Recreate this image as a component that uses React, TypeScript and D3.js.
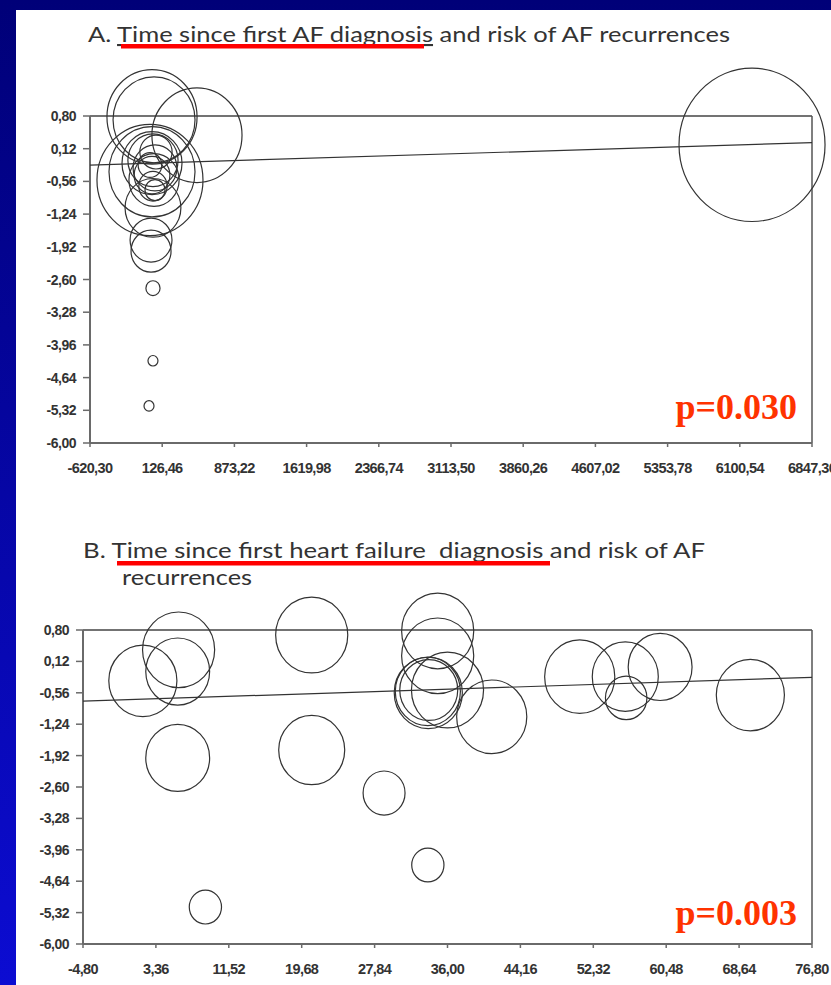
import React from "react";
import * as d3 from "d3";

// ---- Axis ticks (shared y axis: log risk of AF recurrence) ----
const yTicks = [0.8, 0.12, -0.56, -1.24, -1.92, -2.6, -3.28, -3.96, -4.64, -5.32, -6.0];
const xTicksA = [-620.3, 126.46, 873.22, 1619.98, 2366.74, 3113.5, 3860.26, 4607.02, 5353.78, 6100.54, 6847.3];
const xTicksB = [-4.8, 3.36, 11.52, 19.68, 27.84, 36.0, 44.16, 52.32, 60.48, 68.64, 76.8];

// ---- Panel A: time since first AF diagnosis ----
const timeA = [21, 42, 486, 0, 21, 31, 11, 11, 31, 52, 21, 42, 31, 52, 0, 62, 21, 31, 31, -10, 6227];
const effectA = [0.78, 0.72, 0.4, -0.53, -0.36, -1.11, -1.78, -2.01, -0.12, -0.28, -0.43, -0.53, -0.66, -0.74, -0.22, 0.05, -0.18, -2.78, -4.29, -5.23, 0.2];
const weightA = [20.3, 16.8, 20.3, 28.1, 18.5, 7.8, 4.4, 4.0, 6.3, 4.8, 3.2, 6.3, 2.0, 1.0, 1.4, 2.6, 9.0, 0.5, 0.25, 0.25, 53.3];
const fitA = { intercept: -0.181, slope: 0.0000623 };

// ---- Panel B: time since first heart failure diagnosis ----
const timeB = [1.9, 5.9, 5.8, 5.8, 8.9, 20.8, 20.8, 28.9, 33.8, 34.9, 34.9, 33.85, 33.8, 33.9, 36.0, 40.95, 50.8, 55.9, 56.0, 59.8, 69.9];
const effectB = [-0.3, 0.37, -0.1, -1.97, -5.2, 0.69, -1.8, -2.73, -4.29, 0.78, 0.24, -0.56, -0.53, -0.5, -0.5, -1.08, -0.21, -0.21, -0.67, 0.0, -0.61];
const weightB = [11.6, 13.0, 10.2, 10.2, 2.6, 13.0, 10.9, 4.4, 2.6, 13.0, 13.0, 11.6, 10.6, 8.4, 13.0, 12.3, 12.3, 10.9, 4.3, 10.2, 11.6];
const fitB = { intercept: -0.71, slope: 0.006324 };

const commaFmt = d3
  .formatLocale({ decimal: ",", thousands: "", grouping: [3], currency: ["", ""], minus: "-" })
  .format(".2f");

const rScale = d3.scaleSqrt().domain([0, 100]).range([0, 100]);
const ASPECT = 1.05;

type PanelProps = {
  left: number;
  right: number;
  top: number;
  bottom: number;
  xTicks: number[];
  xs: number[];
  ys: number[];
  ws: number[];
  fit: { intercept: number; slope: number };
  pLabel: string;
  pY: number;
};

function Panel(p: PanelProps) {
  const x = d3
    .scaleLinear()
    .domain([p.xTicks[0], p.xTicks[p.xTicks.length - 1]])
    .range([p.left, p.right]);
  const y = d3.scaleLinear().domain([-6, 0.8]).range([p.bottom, p.top]);
  const [x0, x1] = x.domain();
  const fitLine = d3
    .line<number>()
    .x((d) => x(d))
    .y((d) => y(p.fit.intercept + p.fit.slope * d));
  const axisColor = "#6a6a6a";
  return (
    <g>
      {/* frame */}
      <line x1={p.left} x2={p.right} y1={p.top} y2={p.top} stroke="#444" strokeWidth={1.3} />
      <line x1={p.right} x2={p.right} y1={p.top} y2={p.bottom} stroke="#555" strokeWidth={1.5} />
      <line x1={p.left} x2={p.left} y1={p.top} y2={p.bottom} stroke={axisColor} strokeWidth={2} />
      <line x1={p.left} x2={p.right} y1={p.bottom} y2={p.bottom} stroke={axisColor} strokeWidth={2} />
      {/* y axis */}
      {yTicks.map((t) => (
        <g key={"y" + t}>
          <line x1={p.left - 7} x2={p.left} y1={y(t)} y2={y(t)} stroke={axisColor} strokeWidth={1.5} />
          <text
            x={p.left - 14}
            y={y(t)}
            dy="0.36em"
            textAnchor="end"
            fontFamily="Liberation Sans, Arial, sans-serif"
            fontWeight="bold"
            fontSize={14}
            letterSpacing={-0.5}
            fill="#333"
          >
            {commaFmt(t)}
          </text>
        </g>
      ))}
      {/* x axis */}
      {p.xTicks.map((t) => (
        <g key={"x" + t}>
          <line x1={x(t)} x2={x(t)} y1={p.bottom} y2={p.bottom + 4} stroke={axisColor} strokeWidth={1.5} />
          <text
            x={x(t)}
            y={p.bottom + 30}
            textAnchor="middle"
            fontFamily="Liberation Sans, Arial, sans-serif"
            fontWeight="bold"
            fontSize={14.5}
            letterSpacing={-0.6}
            fill="#333"
          >
            {commaFmt(t)}
          </text>
        </g>
      ))}
      {/* meta-regression line */}
      <path d={fitLine([x0, x1]) || ""} fill="none" stroke="#333" strokeWidth={1.2} />
      {/* studies */}
      {p.xs.map((v, i) => (
        <ellipse
          key={"c" + i}
          cx={x(v)}
          cy={y(p.ys[i])}
          rx={rScale(p.ws[i])}
          ry={rScale(p.ws[i]) * ASPECT}
          fill="none"
          stroke="#333"
          strokeWidth={1.2}
        />
      ))}
      <text
        x={p.right - 15}
        y={p.pY}
        textAnchor="end"
        fontFamily="Liberation Serif, Times New Roman, serif"
        fontWeight="bold"
        fontSize={36}
        fill="#ff3300"
      >
        {p.pLabel}
      </text>
    </g>
  );
}

export default function App() {
  const W = 831;
  const H = 985;
  const titleFont = "Lato, Open Sans, sans-serif";
  return (
    <svg width={W} height={H} style={{ position: "absolute", left: 0, top: 0, display: "block" }}>
      <defs>
        <linearGradient id="slideBg" x1="0" y1="0" x2="0" y2="1">
          <stop offset="0" stopColor="#000078" />
          <stop offset="1" stopColor="#0c0cd2" />
        </linearGradient>
      </defs>
      <rect x={0} y={0} width={W} height={H} fill="url(#slideBg)" />
      <rect x={16} y={10} width={W - 16} height={H - 10} fill="#ffffff" />

      {/* Panel A title */}
      <text x={88} y={42} fontFamily={titleFont} fontSize={21} fill="#333" textLength={642} lengthAdjust="spacingAndGlyphs">
        A. <tspan textDecoration="underline">Time since first AF diagnosis</tspan> and risk of AF recurrences
      </text>
      <rect x={121} y={44} width={303} height={4.5} fill="#ff0000" />

      <Panel
        left={90}
        right={812}
        top={116}
        bottom={443}
        xTicks={xTicksA}
        xs={timeA}
        ys={effectA}
        ws={weightA}
        fit={fitA}
        pLabel="p=0.030"
        pY={419}
      />

      {/* Panel B title */}
      <text
        x={83}
        y={558}
        fontFamily={titleFont}
        fontSize={21}
        fill="#333"
        textLength={622}
        lengthAdjust="spacingAndGlyphs"
        style={{ whiteSpace: "pre" }}
      >
        {"B. Time since first heart failure  diagnosis and risk of AF"}
      </text>
      <rect x={117} y={561} width={433} height={4.5} fill="#ff0000" />
      <text x={122} y={585} fontFamily={titleFont} fontSize={21} fill="#333" textLength={130} lengthAdjust="spacingAndGlyphs">
        recurrences
      </text>

      <Panel
        left={83}
        right={812}
        top={630}
        bottom={944}
        xTicks={xTicksB}
        xs={timeB}
        ys={effectB}
        ws={weightB}
        fit={fitB}
        pLabel="p=0.003"
        pY={925}
      />
    </svg>
  );
}
